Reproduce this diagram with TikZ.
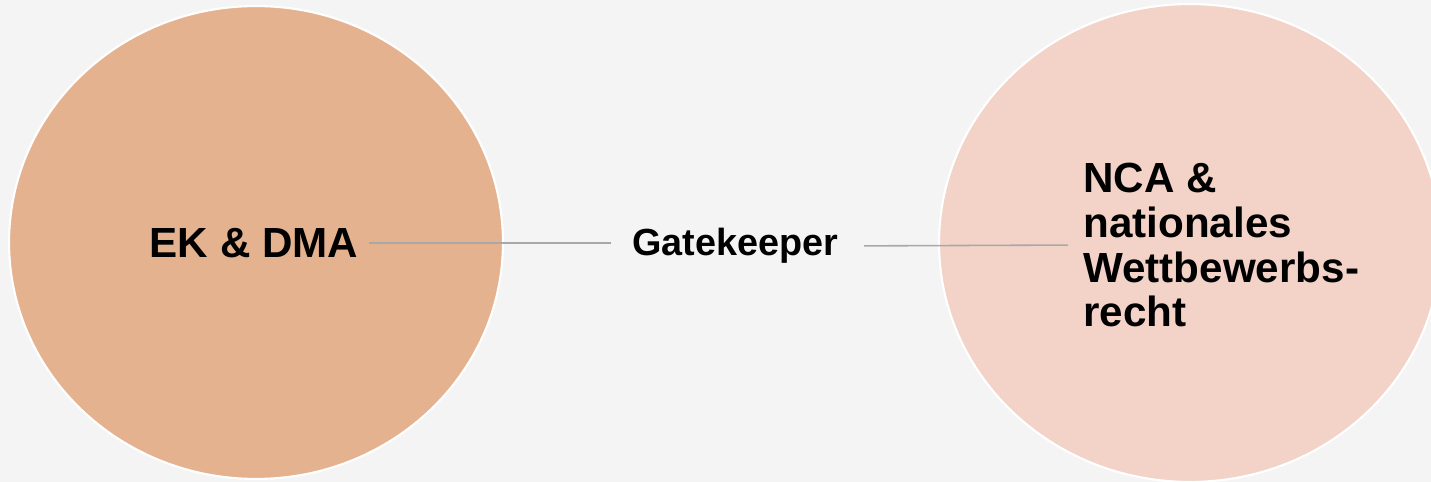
\documentclass[tikz,border=0pt]{standalone}
\usepackage{fontspec}
\setmainfont{Liberation Sans}
\usetikzlibrary{shapes.geometric}
\definecolor{ekorange}{HTML}{E5B28F}
\definecolor{ncapink}{HTML}{F3D3C8}
\definecolor{backgray}{HTML}{F4F4F4}
\definecolor{linegray}{HTML}{A8A8A8}

\begin{document}
\begin{tikzpicture}[x=0.02cm,y=-0.02cm,
    blob/.style={ellipse,draw=white,line width=1.2pt,inner sep=0pt},
    bigtext/.style={font=\bfseries\fontsize{24}{25.6}\selectfont,inner sep=0pt},
    link/.style={draw=linegray,line width=0.9pt}]

		\fill[backgray] (0,0) rectangle (1431,482);
		\useasboundingbox (0,0) rectangle (1431,482);
		\clip (0,0) rectangle (1431,482);

		\node[blob,fill=ekorange,minimum width=9.88cm,minimum height=9.46cm] (EKC) at (256,242.5) {};
		\node[blob,fill=ncapink,minimum width=10.04cm,minimum height=9.56cm] (NCAC) at (1190,243) {};

		\node[bigtext] (EK) at (254,243) {EK \& DMA};
		\node[bigtext,font=\bfseries\fontsize{21.5}{24}\selectfont] (G) at (735,246) {Gatekeeper};
		\node[bigtext,align=left,anchor=west] (NCA) at (1083,245) {NCA \&\\nationales\\Wettbewerbs-\\recht};

		\draw[link,shorten <=0.2cm,shorten >=0.42cm] (EK.east) to (EK.east -| G.west);
		\draw[link,shorten <=0.52cm,shorten >=0.3cm] (G.east) to (NCA.west);

\end{tikzpicture}
\end{document}
